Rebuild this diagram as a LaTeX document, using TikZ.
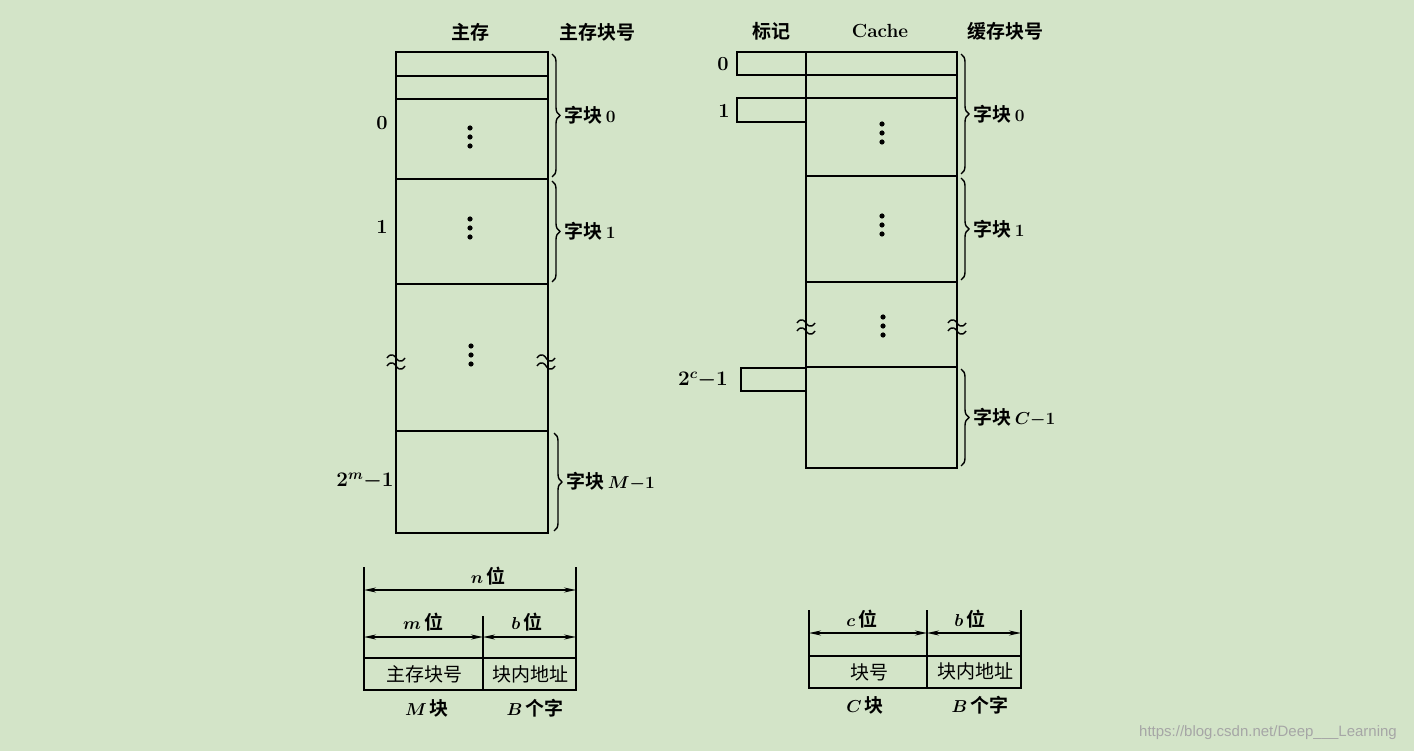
\documentclass[tikz,border=0pt]{standalone}
\usepackage{amsmath}
\usepackage{fontspec}
\newfontfamily\cjk{Noto Sans CJK SC}[BoldFont={* Bold}]
\usetikzlibrary{decorations.pathreplacing,arrows.meta}
\definecolor{bg}{HTML}{D3E4C8}
\begin{document}
\begin{tikzpicture}[x=1pt,y=-1pt,line width=2pt,
  lbl/.style={font=\fontsize{19}{20}\selectfont\bfseries\boldmath\cjk, inner sep=0pt},
  num/.style={font=\fontsize{20}{20}\selectfont\bfseries\boldmath, inner sep=0pt},
  brc/.style={decorate,decoration={brace,amplitude=8pt},line width=1.4pt},
  dim/.style={{Stealth[length=12pt,width=5pt]}-{Stealth[length=12pt,width=5pt]},line width=1.6pt},
  vdots/.pic={\foreach \d in {-9,0,9} \fill (0,\d) circle (2.6pt);},
  wavy/.pic={\foreach \d in {-4,4}{\draw[line width=1.4pt] (-9,\d) .. controls (-5,\d-6) and (-1,\d-2) .. (0,\d) .. controls (1,\d+2) and (5,\d+6) .. (9,\d);}}]
\fill[bg] (0,0) rectangle (1414,751);
\useasboundingbox (0,0) rectangle (1414,751);
% ---------- main memory ----------
\node[lbl] (hm) at (470,32) {主存};
\node[lbl] (hmn) at (597,32) {主存块号};
\draw (396,52) rectangle (548,533);
\foreach \y in {76,99,179,284,431} \draw (396,\y) -- (548,\y);
\pic at (470,137) {vdots}; \pic at (470,228) {vdots}; \pic at (471,355) {vdots};
\pic at (396,362) {wavy}; \pic at (546,362) {wavy};
\node[num] (m0) at (382,123) {0};
\node[num] (m1) at (382,227) {1};
\node[num] (mm) at (365,481) {$2^{m}{-}1$};
\draw[brc] (552,54) -- (552,177) node[midway,right=12pt,lbl] (b0) {字块\,$0$};
\draw[brc] (552,181) -- (552,282) node[midway,right=12pt,lbl] (b1) {字块\,$1$};
\draw[brc] (554,433) -- (554,531) node[midway,right=12pt,lbl] (bm) {字块\,$M{-}1$};
% ---------- cache ----------
\node[lbl] (ht) at (771,31) {标记};
\node[num,font=\fontsize{19}{20}\selectfont\bfseries] (hc) at (880,31) {Cache};
\node[lbl] (hcn) at (1005,31) {缓存块号};
\draw (806,52) rectangle (957,468);
\foreach \y in {75,98,176,282,367} \draw (806,\y) -- (957,\y);
\draw (806,52) -| (737,75) -- (806,75);
\draw (806,98) -| (737,122) -- (806,122);
\draw (806,368) -| (741,391) -- (806,391);
\pic at (882,133) {vdots}; \pic at (882,225) {vdots}; \pic at (883,326) {vdots};
\pic at (806,327) {wavy}; \pic at (957,327) {wavy};
\node[num] (c0) at (723,64) {0};
\node[num] (c1) at (724,111) {1};
\node[num] (cc) at (703,380) {$2^{c}{-}1$};
\draw[brc] (961,54) -- (961,174) node[midway,right=12pt,lbl] (d0) {字块\,$0$};
\draw[brc] (961,178) -- (961,280) node[midway,right=12pt,lbl] (d1) {字块\,$1$};
\draw[brc] (961,369) -- (961,466) node[midway,right=12pt,lbl] (dc) {字块\,$C{-}1$};
% ---------- left address format ----------
\coordinate (La) at (364,567); \coordinate (Lb) at (364,690);
\coordinate (Ra) at (576,567); \coordinate (Rb) at (576,690);
\coordinate (Ma) at (483,616); \coordinate (Mb) at (483,690);
\draw[line width=1.6pt] (La) -- (Lb); \draw[line width=1.6pt] (Ra) -- (Rb); \draw[line width=1.6pt] (Ma) -- (Mb);
\draw (364,658) rectangle (576,690);
\draw[dim] (364,590) -- (576,590);
\draw[dim] (364,637) -- (483,637);
\draw[dim] (483,637) -- (576,637);
\node[lbl] (n) at (488,576) {$n$\,位};
\node[lbl] (mw) at (423,622) {$m$\,位};
\node[lbl] (bw) at (527,622) {$b$\,位};
\node[lbl,font=\fontsize{19}{20}\selectfont\cjk] (t1) at (424,674) {主存块号};
\node[lbl,font=\fontsize{19}{20}\selectfont\cjk] (t2) at (530,674) {块内地址};
\node[lbl] (u1) at (427,708) {$M$\,块};
\node[lbl] (u2) at (535,708) {$B$\,个字};
% ---------- right address format ----------
\coordinate (La2) at (809,610); \coordinate (Lb2) at (809,688);
\coordinate (Ra2) at (1021,610); \coordinate (Rb2) at (1021,688);
\coordinate (Ma2) at (927,610); \coordinate (Mb2) at (927,688);
\draw[line width=1.6pt] (La2) -- (Lb2); \draw[line width=1.6pt] (Ra2) -- (Rb2); \draw[line width=1.6pt] (Ma2) -- (Mb2);
\draw (809,656) rectangle (1021,688);
\draw[dim] (809,633) -- (927,633);
\draw[dim] (927,633) -- (1021,633);
\node[lbl] (cw) at (862,619) {$c$\,位};
\node[lbl] (bw2) at (970,619) {$b$\,位};
\node[lbl,font=\fontsize{19}{20}\selectfont\cjk] (t3) at (869,672) {块号};
\node[lbl,font=\fontsize{19}{20}\selectfont\cjk] (t4) at (975,671) {块内地址};
\node[lbl] (u3) at (865,705) {$C$\,块};
\node[lbl] (u4) at (980,705) {$B$\,个字};
% watermark
\node[font=\fontsize{15}{16}\selectfont\fontspec{Liberation Sans},text=gray!70,inner sep=0pt] (wm) at (1268,733) {https://blog.csdn.net/Deep\_\_\_Learning};
\end{tikzpicture}
\end{document}
